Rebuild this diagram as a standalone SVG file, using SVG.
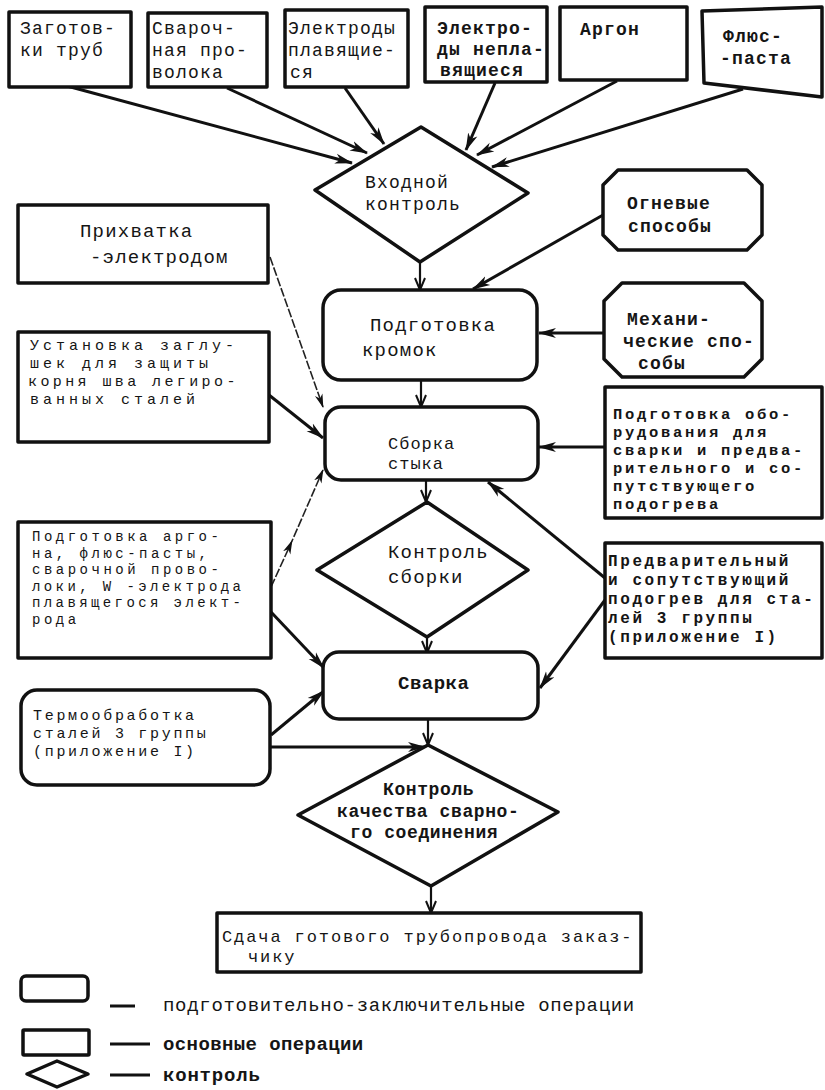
<svg xmlns="http://www.w3.org/2000/svg" width="825" height="1090" viewBox="0 0 825 1090">
<defs>
<style>
.bx{fill:#fff;stroke:#111;stroke-width:3.5;stroke-linejoin:round}
.t{font-family:"Liberation Mono","DejaVu Sans Mono",monospace;font-size:18px;fill:#151515;letter-spacing:1.2px}
.b{font-weight:bold}
.c{fill:none;stroke:#111;stroke-width:3}
.cm{fill:none;stroke:#111;stroke-width:2.2}
.ct{fill:none;stroke:#222;stroke-width:1.6;stroke-dasharray:9 2}
</style>
<marker id="ah" markerUnits="userSpaceOnUse" markerWidth="18" markerHeight="12" refX="17" refY="6" orient="auto"><path d="M0,1 L18,6 L0,11 L5,6 z" fill="#111"/></marker>
<marker id="ahs" markerUnits="userSpaceOnUse" markerWidth="14" markerHeight="10" refX="13" refY="5" orient="auto"><path d="M0,1 L14,5 L0,9 L4,5 z" fill="#111"/></marker>
<marker id="av" markerUnits="userSpaceOnUse" markerWidth="14" markerHeight="12" refX="13" refY="6" orient="auto"><path d="M1,1 L13,6 L1,11" fill="none" stroke="#111" stroke-width="2"/></marker>
</defs>
<rect width="825" height="1090" fill="#fff"/>

<g id="connectors">
<path class="c" d="M67,86 L352,163" marker-end="url(#ah)"/>
<path class="c" d="M227,88 L367,153" marker-end="url(#ah)"/>
<path class="c" d="M345,88 L384,144" marker-end="url(#ah)"/>
<path class="c" d="M495,83 L466,150" marker-end="url(#ah)"/>
<path class="c" d="M617,81 L477,155" marker-end="url(#ah)"/>
<path class="c" d="M743,89 L492,167" marker-end="url(#ah)"/>
<path class="cm" d="M420,262 L420,290" marker-end="url(#av)"/>
<path class="c" d="M603,215 L473,289" marker-end="url(#ah)"/>
<path class="c" d="M604,333 L539,333" marker-end="url(#ah)"/>
<path class="cm" d="M421,380 L421,407" marker-end="url(#av)"/>
<path class="ct" d="M270,257 L323,407" marker-end="url(#ahs)"/>
<path class="c" d="M269,395 L323,438" marker-end="url(#ah)"/>
<path class="c" d="M605,447 L539,447" marker-end="url(#ah)"/>
<path class="cm" d="M426,480 L426,502" marker-end="url(#av)"/>
<path class="ct" d="M271,587 L292,541 L323,470" marker-mid="url(#ahs)" marker-end="url(#ahs)"/>
<path class="c" d="M605,578 L488,482" marker-end="url(#ah)"/>
<path class="c" d="M605,600 L540,688" marker-end="url(#ah)"/>
<path class="cm" d="M427,637 L427,653" marker-end="url(#av)"/>
<path class="c" d="M271,612 L324,668" marker-end="url(#ah)"/>
<path class="c" d="M271,735 L324,691" marker-end="url(#ah)"/>
<path class="cm" d="M428,720 L428,745" marker-end="url(#av)"/>
<path class="c" d="M271,747 L425,747" marker-end="url(#ah)"/>
<path class="cm" d="M431,886 L431,913" marker-end="url(#av)"/>
</g>

<g id="n-zagotovki">
<rect class="bx" x="9" y="12" width="122" height="75"/>
<text class="t" x="20" y="34">Заготов-</text>
<text class="t" x="20" y="56">ки труб</text>
</g>
<g id="n-provoloka">
<rect class="bx" x="148" y="13" width="119" height="74"/>
<text class="t" x="152" y="34">Свароч-</text>
<text class="t" x="152" y="56">ная про-</text>
<text class="t" x="152" y="78">волока</text>
</g>
<g id="n-el-plav">
<rect class="bx" x="285" y="10" width="123" height="77"/>
<text class="t" x="288" y="34">Электроды</text>
<text class="t" x="288" y="56">плавящие-</text>
<text class="t" x="290" y="78">ся</text>
</g>
<g id="n-el-neplav">
<rect class="bx" x="425" y="7" width="122" height="75"/>
<text class="t b" x="437" y="34">Электро-</text>
<text class="t b" x="437" y="55">ды непла-</text>
<text class="t b" x="440" y="76">вящиеся</text>
</g>
<g id="n-argon">
<rect class="bx" x="560" y="7" width="127" height="73"/>
<text class="t b" x="580" y="35">Аргон</text>
</g>
<g id="n-flux">
<polygon class="bx" points="702,11 822,7 822,97 704,83"/>
<text class="t b" x="723" y="42">Флюс-</text>
<text class="t b" x="720" y="64">-паста</text>
</g>

<g id="n-vhodnoy">
<polygon class="bx" points="421,127 528,193 420,262 315,190"/>
<text class="t" x="365" y="188">Входной</text>
<text class="t" x="365" y="210">контроль</text>
</g>

<g id="n-prihvatka">
<rect class="bx" x="18" y="205" width="250" height="78"/>
<text class="t" x="80" y="237" style="font-size:19px">Прихватка</text>
<text class="t" x="90" y="263" style="font-size:19px">-электродом</text>
</g>

<g id="n-ognevye">
<polygon class="bx" points="618,170 747,170 762,185 762,235 747,250 618,250 603,235 603,185"/>
<text class="t b" x="627" y="209">Огневые</text>
<text class="t b" x="628" y="232">способы</text>
</g>

<g id="n-podg-kromok">
<rect class="bx" x="323" y="290" width="214" height="90" rx="18"/>
<text class="t" x="370" y="331" style="font-size:19px">Подготовка</text>
<text class="t" x="362" y="356" style="font-size:19px">кромок</text>
</g>

<g id="n-mehan">
<polygon class="bx" points="622,283 744,283 762,301 762,359 744,377 622,377 604,359 604,301"/>
<text class="t b" x="627" y="325">Механи-</text>
<text class="t b" x="623" y="347">ческие спо-</text>
<text class="t b" x="638" y="369">собы</text>
</g>

<g id="n-ustanovka">
<rect class="bx" x="18" y="332" width="251" height="110"/>
<text class="t" x="30" y="350" style="font-size:15px;letter-spacing:4px">Установка заглу-</text>
<text class="t" x="30" y="368" style="font-size:15px;letter-spacing:4px">шек для защиты</text>
<text class="t" x="28" y="386" style="font-size:15px;letter-spacing:3.4px">корня шва легиро-</text>
<text class="t" x="30" y="404" style="font-size:15px;letter-spacing:4px">ванных сталей</text>
</g>

<g id="n-sborka">
<rect class="bx" x="325" y="407" width="213" height="73" rx="16"/>
<text class="t" x="388" y="449" style="font-size:17px;letter-spacing:1px">Сборка</text>
<text class="t" x="388" y="469" style="font-size:17px;letter-spacing:1px">стыка</text>
</g>

<g id="n-podg-oborud">
<rect class="bx" x="605" y="387" width="217" height="131"/>
<text class="t b" x="613" y="419" style="font-size:15.5px;letter-spacing:2.7px">Подготовка обо-</text>
<text class="t b" x="613" y="437" style="font-size:15.5px;letter-spacing:2.7px">рудования для</text>
<text class="t b" x="613" y="455" style="font-size:15.5px;letter-spacing:2.7px">сварки и предва-</text>
<text class="t b" x="613" y="473" style="font-size:15.5px;letter-spacing:2.7px">рительного и со-</text>
<text class="t b" x="613" y="491" style="font-size:15.5px;letter-spacing:2.7px">путствующего</text>
<text class="t b" x="613" y="509" style="font-size:15.5px;letter-spacing:2.7px">подогрева</text>
</g>

<g id="n-kontrol-sborki">
<polygon class="bx" points="427,502 528,570 427,637 317,570"/>
<text class="t" x="388" y="558" style="font-size:19px">Контроль</text>
<text class="t" x="388" y="583" style="font-size:19px">сборки</text>
</g>

<g id="n-podg-argona">
<rect class="bx" x="18" y="522" width="253" height="136"/>
<text class="t" x="32" y="541" style="font-size:14px;letter-spacing:3.5px">Подготовка арго-</text>
<text class="t" x="32" y="557.5" style="font-size:14px;letter-spacing:3.5px">на, флюс-пасты,</text>
<text class="t" x="32" y="574" style="font-size:14px;letter-spacing:3.5px">сварочной прово-</text>
<text class="t" x="32" y="590.5" style="font-size:14px;letter-spacing:3.4px">локи, W -электрода</text>
<text class="t" x="32" y="607" style="font-size:14px;letter-spacing:3.4px">плавящегося элект-</text>
<text class="t" x="32" y="623.5" style="font-size:14px;letter-spacing:3.5px">рода</text>
</g>

<g id="n-predvar">
<rect class="bx" x="605" y="543" width="217" height="115"/>
<text class="t b" x="608" y="566" style="font-size:16px;letter-spacing:2.6px">Предварительный</text>
<text class="t b" x="608" y="585" style="font-size:16px;letter-spacing:2.6px">и сопутствующий</text>
<text class="t b" x="608" y="604" style="font-size:16px;letter-spacing:2.6px">подогрев для ста-</text>
<text class="t b" x="608" y="623" style="font-size:16px;letter-spacing:2.6px">лей 3 группы</text>
<text class="t b" x="608" y="642" style="font-size:16px;letter-spacing:2.6px">(приложение I)</text>
</g>

<g id="n-svarka">
<rect class="bx" x="323" y="652" width="215" height="67" rx="16"/>
<text class="t b" x="398" y="689" style="font-size:19px;letter-spacing:0.5px">Сварка</text>
</g>

<g id="n-termo">
<rect class="bx" x="21" y="690" width="249" height="95" rx="16"/>
<text class="t" x="33" y="720" style="font-size:15px;letter-spacing:2.7px">Термообработка</text>
<text class="t" x="33" y="738" style="font-size:15px;letter-spacing:2.7px">сталей 3 группы</text>
<text class="t" x="33" y="756" style="font-size:15px;letter-spacing:2.7px">(приложение I)</text>
</g>

<g id="n-kontrol-kach">
<polygon class="bx" points="428,745 558,812 431,886 298,815"/>
<text class="t b" x="383" y="795" style="letter-spacing:0.6px">Контроль</text>
<text class="t b" x="337" y="817" style="letter-spacing:0.6px">качества сварно-</text>
<text class="t b" x="350" y="838" style="letter-spacing:0.6px">го соединения</text>
</g>

<g id="n-sdacha">
<rect class="bx" x="217" y="913" width="424" height="59"/>
<text class="t" x="222" y="942" style="font-size:17px;letter-spacing:1.9px">Сдача готового трубопровода заказ-</text>
<text class="t" x="248" y="962" style="font-size:17px;letter-spacing:1.9px">чику</text>
</g>

<g id="legend">
<rect class="bx" x="21" y="976" width="67" height="25" rx="5"/>
<path class="c" d="M110,1006 L135,1006"/>
<text class="t" x="163" y="1011" style="font-size:19px;letter-spacing:0.7px">подготовительно-заключительные операции</text>
<rect class="bx" x="23" y="1030" width="66" height="25" rx="1"/>
<path class="c" d="M110,1044 L150,1044"/>
<text class="t b" x="163" y="1050" style="font-size:19px;letter-spacing:0.4px">основные операции</text>
<polygon class="bx" points="27,1074 57,1061 88,1074 57,1087"/>
<path class="c" d="M110,1075 L150,1075"/>
<text class="t b" x="163" y="1081" style="font-size:19px;letter-spacing:0.8px">контроль</text>
</g>
</svg>
